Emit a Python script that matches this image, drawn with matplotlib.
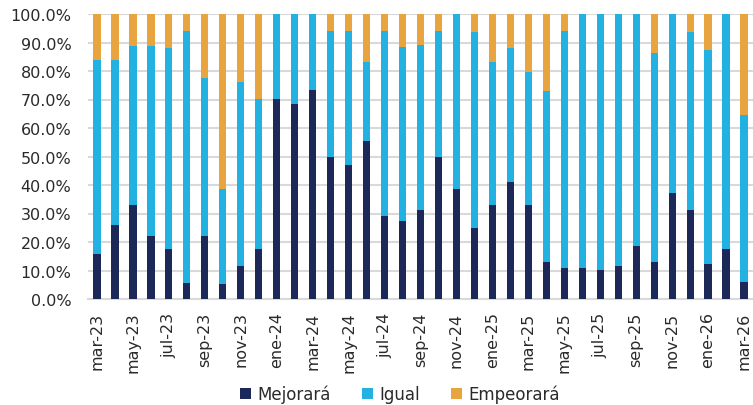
import matplotlib
matplotlib.use("Agg")
import matplotlib.pyplot as plt
import numpy as np

months = ["ene", "feb", "mar", "abr", "may", "jun", "jul", "ago", "sep", "oct", "nov", "dic"]
categories = []
y, m = 2023, 2
for i in range(37):
    categories.append(f"{months[m]}-{str(y)[2:]}")
    m += 1
    if m == 12:
        m = 0
        y += 1

mejorara = [15.7, 26.0, 33.0, 22.1, 17.5, 5.7, 22.1, 5.3, 11.7, 17.7, 70.3, 68.5,
            73.5, 50.0, 46.9, 55.3, 29.1, 27.5, 31.3, 50.0, 38.7, 24.9, 33.0, 41.0,
            33.0, 13.0, 10.9, 10.9, 10.2, 11.6, 18.6, 13.0, 37.3, 31.2, 12.3, 17.7, 5.8]
igual_top = [84.0, 84.0, 88.7, 88.7, 88.0, 94.0, 77.5, 38.7, 76.3, 70.3, 100, 100,
             100, 94.2, 93.9, 83.0, 93.9, 88.5, 89.2, 94.2, 100, 93.6, 83.0, 88.1,
             79.8, 73.1, 94.2, 100, 100, 100, 100, 86.4, 100, 93.6, 87.3, 100, 64.6]
igual = [t - d for t, d in zip(igual_top, mejorara)]
empeorara = [100 - t for t in igual_top]

c_dark = "#1B2858"
c_light = "#23B1E1"
c_orange = "#E8A43F"

plt.rcParams['font.family'] = ['DejaVu Sans']
fig = plt.figure(figsize=(7.53, 4.06), dpi=100)
ax = fig.add_axes([88/753, 1 - 300/406, 665/753, 285/406])

x = np.arange(len(categories))
w = 0.4
ax.bar(x, mejorara, w, color=c_dark, label="Mejorará", zorder=3)
ax.bar(x, igual, w, bottom=mejorara, color=c_light, label="Igual", zorder=3)
ax.bar(x, empeorara, w, bottom=igual_top, color=c_orange, label="Empeorará", zorder=3)

ax.set_xlim(-0.5, len(categories) - 0.5)
ax.set_ylim(0, 100)
ax.set_yticks(np.arange(0, 101, 10))
ax.set_yticklabels([f"{v:.1f}%" for v in range(0, 101, 10)], fontsize=11.5, color="#2a2a2a")
ax.set_xticks(x[::2])
ax.set_xticklabels(categories[::2], rotation=90, fontsize=11.5, color="#2a2a2a")
ax.tick_params(axis='both', length=0)
ax.tick_params(axis='y', pad=12)
ax.tick_params(axis='x', pad=9)
ax.yaxis.grid(True, color="#D9D9D9", linewidth=1.5, zorder=0)
for s in ["top", "right", "left"]:
    ax.spines[s].set_visible(False)
ax.spines["bottom"].set_color("#D9D9D9")
ax.spines["bottom"].set_linewidth(1.5)

fig.legend(loc="center", bbox_to_anchor=(400/753, 1 - 395/406), ncol=3, frameon=False,
           fontsize=12, handlelength=0.66, handleheight=0.66, handletextpad=0.35,
           columnspacing=1.9, borderpad=0.1, labelcolor="#2a2a2a")

fig.savefig("out.png", dpi=100)
